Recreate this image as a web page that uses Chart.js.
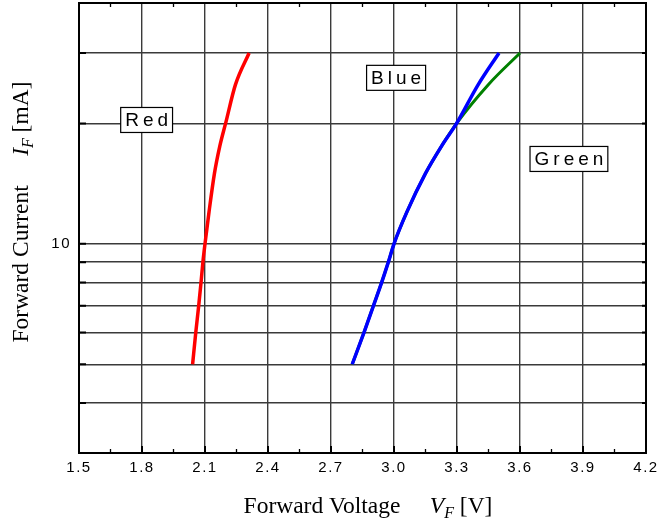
<!DOCTYPE html>
<html>
<head>
<meta charset="utf-8">
<script src="https://cdn.jsdelivr.net/npm/chart.js@4/dist/chart.umd.min.js"></script>
<style>
html,body{margin:0;padding:0;background:#fff;}
#c{display:block;}
</style>
</head>
<body>
<canvas id="c" width="660" height="522"></canvas>
<script>
// ---- data ----
const currentI = [5, 6, 7, 8, 9, 10, 12, 15, 17.5, 20, 25, 30];          // mA
const redV     = [2.041, 2.056, 2.070, 2.081, 2.090, 2.100, 2.119, 2.145, 2.170, 2.198, 2.245, 2.310];
const blueV    = [2.801, 2.857, 2.902, 2.941, 2.973, 3.000, 3.061, 3.150, 3.225, 3.298, 3.401, 3.500];
const greenV   = [2.801, 2.857, 2.902, 2.941, 2.973, 3.000, 3.061, 3.150, 3.225, 3.298, 3.449, 3.600];
const xTicks   = [1.5, 1.8, 2.1, 2.4, 2.7, 3.0, 3.3, 3.6, 3.9, 4.2];
const yTicks   = [3, 4, 5, 6, 7, 8, 9, 10, 20, 30, 40];
const yLabels  = [10];
const seriesNames = ['Red', 'Blue', 'Green'];
const labelAnchors = [ {x: 1.822, y: 20.4}, {x: 3.01, y: 26.0}, {x: 3.833, y: 16.3} ];

const pts = (xs, ys) => xs.map((v, i) => ({x: v, y: ys[i]}));

const framePlugin = {
  id: 'frame',
  beforeDraw(chart) {
    chart.ctx.letterSpacing = '1.5px';
  },
  afterDraw(chart) {
    const ctx = chart.ctx;
    const a = chart.chartArea;
    const xs = chart.scales.x, ys = chart.scales.y;
    ctx.save();
    ctx.letterSpacing = '0px';
    ctx.strokeStyle = '#000';
    ctx.lineWidth = 1.3;
    for (let i = 0; i < xTicks.length - 1; i++) {
      const mid = (xTicks[i] + xTicks[i + 1]) / 2;
      const px = xs.getPixelForValue(mid);
      ctx.beginPath();
      ctx.moveTo(px, a.bottom); ctx.lineTo(px, a.bottom - 4);
      ctx.moveTo(px, a.top); ctx.lineTo(px, a.top + 4);
      ctx.stroke();
    }
    ctx.lineWidth = 2;
    for (const v of xTicks) {
      const px = xs.getPixelForValue(v);
      ctx.beginPath();
      ctx.moveTo(px, a.bottom); ctx.lineTo(px, a.bottom - 7);
      ctx.stroke();
    }
    for (const v of yTicks) {
      const py = ys.getPixelForValue(v);
      ctx.beginPath();
      ctx.moveTo(a.left, py); ctx.lineTo(a.left + 7, py);
      ctx.moveTo(a.right, py); ctx.lineTo(a.right - 4, py);
      ctx.stroke();
    }
    ctx.lineWidth = 2;
    ctx.strokeStyle = '#000';
    ctx.strokeRect(a.left, a.top, a.right - a.left, a.bottom - a.top);

    // series labels in boxes
    ctx.font = '19px "Liberation Sans", Arial, sans-serif';
    ctx.letterSpacing = '4px';
    ctx.textBaseline = 'middle';
    ctx.textAlign = 'left';
    seriesNames.forEach((name, i) => {
      const cx = xs.getPixelForValue(labelAnchors[i].x);
      const cy = ys.getPixelForValue(labelAnchors[i].y);
      const w = ctx.measureText(name).width - 4;
      const bw = w + 9, bh = 25;
      ctx.fillStyle = '#fff';
      ctx.fillRect(cx - bw / 2, cy - bh / 2, bw, bh);
      ctx.lineWidth = 1.2;
      ctx.strokeStyle = '#000';
      ctx.strokeRect(cx - bw / 2, cy - bh / 2, bw, bh);
      ctx.fillStyle = '#000';
      ctx.fillText(name, cx - w / 2, cy + 1);
    });
    ctx.letterSpacing = '0px';

    const serif = '"Liberation Serif", "Times New Roman", serif';
    const segsX = [
      {t: 'Forward Voltage', f: '23.5px ' + serif},
      {t: '     ', f: '23.5px ' + serif},
      {t: 'V', f: 'italic 23.5px ' + serif},
      {t: 'F', f: 'italic 16px ' + serif, dy: 5},
      {t: ' [V]', f: '23.5px ' + serif}
    ];
    const segsY = [
      {t: 'Forward Current', f: '23.5px ' + serif},
      {t: '     ', f: '23.5px ' + serif},
      {t: 'I', f: 'italic 23.5px ' + serif},
      {t: 'F', f: 'italic 16px ' + serif, dy: 5},
      {t: ' [mA]', f: '23.5px ' + serif}
    ];
    const drawSegs = (segs, cx, baseY) => {
      let total = 0;
      segs.forEach(s => { ctx.font = s.f; s.w = ctx.measureText(s.t).width; total += s.w; });
      let x = cx - total / 2;
      ctx.textAlign = 'left';
      ctx.textBaseline = 'alphabetic';
      ctx.fillStyle = '#000';
      segs.forEach(s => { ctx.font = s.f; ctx.fillText(s.t, x, baseY + (s.dy || 0)); x += s.w; });
    };
    drawSegs(segsX, 368, 513);
    ctx.save();
    ctx.translate(28, 212);
    ctx.rotate(-Math.PI / 2);
    drawSegs(segsY, 0, 0);
    ctx.restore();
    ctx.restore();
  }
};

const lineOpts = {showLine: true, pointRadius: 0, cubicInterpolationMode: 'monotone'};

new Chart(document.getElementById('c'), {
  type: 'scatter',
  data: {
    datasets: [
      Object.assign({label: 'Blue', data: pts(blueV, currentI), borderColor: '#0000ff', borderWidth: 3.5}, lineOpts),
      Object.assign({label: 'Red', data: pts(redV, currentI), borderColor: '#ff0000', borderWidth: 3.5}, lineOpts),
      Object.assign({label: 'Green', data: pts(greenV, currentI), borderColor: '#008000', borderWidth: 3}, lineOpts)
    ]
  },
  options: {
    responsive: false,
    animation: false,
    layout: {padding: {top: 3, right: 14, left: 0, bottom: 0}},
    plugins: {legend: {display: false}, tooltip: {enabled: false}},
    scales: {
      x: {
        type: 'linear', min: 1.5, max: 4.2,
        afterBuildTicks: s => { s.ticks = xTicks.map(v => ({value: v})); },
        afterFit: s => { s.height = 69; s.paddingLeft = 0; s.paddingRight = 0; },
        grid: {color: '#3a3a3a', lineWidth: 1.4, drawTicks: false},
        border: {display: false},
        ticks: {
          padding: 6,
          color: '#000',
          font: {family: '"Liberation Sans", Arial, sans-serif', size: 15},
          callback: v => v.toFixed(1),
          maxRotation: 0, autoSkip: false
        }
      },
      y: {
        type: 'logarithmic', min: 3, max: 40,
        afterBuildTicks: s => { s.ticks = yTicks.map(v => ({value: v})); },
        afterFit: s => { s.width = 79; s.paddingTop = 0; s.paddingBottom = 0; },
        grid: {color: '#3a3a3a', lineWidth: 1.4, drawTicks: false},
        border: {display: false},
        ticks: {
          padding: 8,
          color: '#000',
          font: {family: '"Liberation Sans", Arial, sans-serif', size: 15},
          callback: v => yLabels.includes(v) ? String(v) : '',
          autoSkip: false
        }
      }
    }
  },
  plugins: [framePlugin]
});
</script>
</body>
</html>
